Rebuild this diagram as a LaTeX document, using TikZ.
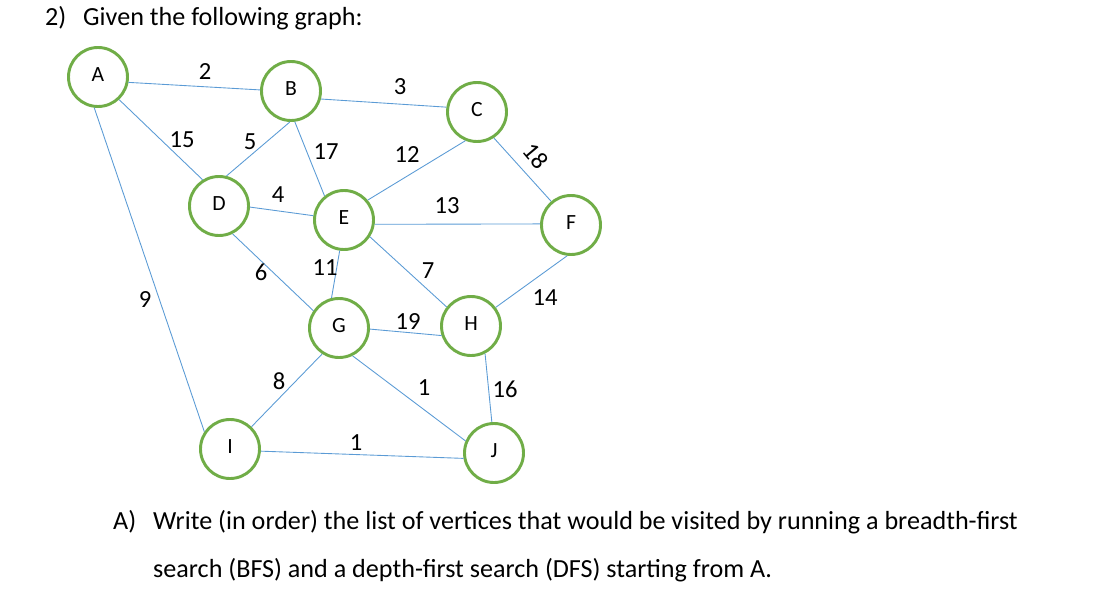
\documentclass[tikz,border=0pt]{standalone}
\usepackage{fontspec}
\setmainfont{Carlito}
\usetikzlibrary{positioning}

\definecolor{nodegreen}{RGB}{112,173,71}
\definecolor{edgeblue}{RGB}{91,155,213}

\begin{document}
\begin{tikzpicture}[
        x=0.03cm, y=-0.03cm,
        vtx/.style={circle, draw=nodegreen, line width=2.5pt, fill=white,
                    minimum size=1.77cm, inner sep=0pt, text height=0.83em, text depth=0pt,
                    font=\fontsize{18.5}{21}\selectfont},
        link/.style={draw=edgeblue, line width=0.75pt},
        wlbl/.style={inner sep=0.5pt, font=\fontsize{21}{24}\selectfont},
        txt/.style={anchor=base west, inner sep=0pt, font=\fontsize{22.3}{26}\selectfont},
    ]
        \useasboundingbox (0,0) rectangle (1104,594);

        % question text
        \node[txt] (qnum)   at (45,26)   {2)};
        \node[txt] (qtitle) at (83,26)   {Given the following graph:};
        \node[txt] (anum)   at (113,529) {A)};
        \node[txt] (aline1) at (153,529) {Write (in order) the list of vertices that would be visited by running a breadth-first};
        \node[txt] (aline2) at (153,577) {search (BFS) and a depth-first search (DFS) starting from A.};

        % vertices
        \node[vtx] (A) at (98,77)    {A};
        \node[vtx] (B) at (291,91)   {B};
        \node[vtx] (C) at (477,112)  {C};
        \node[vtx] (D) at (219,206)  {D};
        \node[vtx] (E) at (344,220)  {E};
        \node[vtx] (F) at (571,225)  {F};
        \node[vtx] (G) at (339,328)  {G};
        \node[vtx] (H) at (471,326)  {H};
        \node[vtx] (I) at (230,449)  {I};
        \node[vtx] (J) at (494,453)  {J};

        % edges (end points where the original connectors meet the circles)
        \draw[link] (A.-10)   -- (B.178);
        \draw[link] (A.-47)   -- (D.122);
        \draw[link] (A.-97)   -- (I.146);
        \draw[link] (B.-15)   -- (C.171);
        \draw[link] (B.-92)   -- (D.76);
        \draw[link] (B.-83)   -- (E.129);
        \draw[link] (C.-112)  -- (E.40);
        \draw[link] (C.-57)   -- (F.130);
        \draw[link] (D.-2)    -- (E.172);
        \draw[link] (D.-64)   -- (G.146);
        \draw[link] (E.-8)    -- (F.178);
        \draw[link] (E.-98)   -- (G.104);
        \draw[link] (E.-33)   -- (H.142);
        \draw[link] (F.-97)   -- (H.37);
        \draw[link] (G.-2)    -- (H.-162);
        \draw[link] (G.-123)  -- (I.46);
        \draw[link] (G.-64)   -- (J.157);
        \draw[link] (H.-63)   -- (J.94);
        \draw[link] (I.-4)    -- (J.-170);

        % weights
        \node[wlbl] (wAB) at (205,72)  {2};
        \node[wlbl] (wAD) at (182,140) {15};
        \node[wlbl] (wAI) at (145,300) {9};
        \node[wlbl] (wBC) at (400,87)  {3};
        \node[wlbl] (wBD) at (250,142) {5};
        \node[wlbl] (wBE) at (326,152) {17};
        \node[wlbl] (wCE) at (407,155) {12};
        \node[wlbl, rotate=-50] (wCF) at (536,156) {18};
        \node[wlbl] (wDE) at (278,195) {4};
        \node[wlbl] (wDG) at (261,272) {6};
        \node[wlbl] (wEF) at (447,206) {13};
        \node[wlbl] (wEG) at (325,268) {11};
        \node[wlbl] (wEH) at (428,271) {7};
        \node[wlbl] (wFH) at (545,298) {14};
        \node[wlbl] (wGH) at (408,322) {19};
        \node[wlbl] (wGI) at (279,381) {8};
        \node[wlbl] (wGJ) at (424,388) {1};
        \node[wlbl] (wHJ) at (505,389) {16};
        \node[wlbl] (wIJ) at (356,443) {1};
\end{tikzpicture}
\end{document}
